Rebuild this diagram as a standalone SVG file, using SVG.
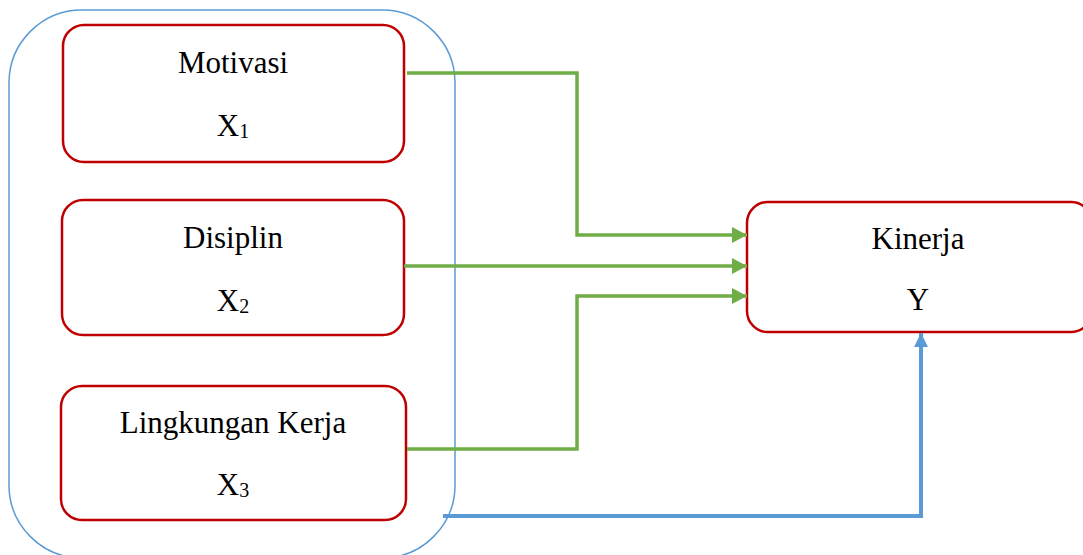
<svg xmlns="http://www.w3.org/2000/svg" width="1083" height="555" viewBox="0 0 1083 555">
<style>
.box{fill:#fff;stroke:#C00000;stroke-width:2.5}
.t{font-family:"Liberation Serif","Times New Roman",serif;font-size:31px;fill:#000;text-anchor:middle}
.sub{font-size:20px}
.g{fill:none;stroke:#70AD47;stroke-width:3.5}
.b{fill:none;stroke:#5B9BD5;stroke-width:4}
</style>
<defs>
<marker id="ag" markerUnits="userSpaceOnUse" markerWidth="16" markerHeight="16" refX="15" refY="8" orient="auto"><path d="M0,0 L15,8 L0,16 Z" fill="#70AD47"/></marker>
<marker id="ab" markerUnits="userSpaceOnUse" markerWidth="14" markerHeight="14" refX="14" refY="7" orient="auto"><path d="M0,0 L14,7 L0,14 Z" fill="#5B9BD5"/></marker>
</defs>
<rect id="group" x="9" y="10" width="446" height="548" rx="73" ry="73" fill="none" stroke="#5B9BD5" stroke-width="1.5"/>
<g id="motivasi">
<rect class="box" x="63" y="25" width="341" height="137" rx="21"/>
<text class="t" x="233" y="73">Motivasi</text>
<text class="t" x="233" y="136">X<tspan class="sub" dy="2">1</tspan></text>
</g>
<g id="disiplin">
<rect class="box" x="62" y="200" width="342" height="135" rx="21"/>
<text class="t" x="233" y="248">Disiplin</text>
<text class="t" x="233" y="311">X<tspan class="sub" dy="2">2</tspan></text>
</g>
<g id="lingkungan">
<rect class="box" x="61" y="386" width="345" height="134" rx="21"/>
<text class="t" x="233" y="433">Lingkungan Kerja</text>
<text class="t" x="233" y="495">X<tspan class="sub" dy="2">3</tspan></text>
</g>
<g id="kinerja">
<rect class="box" x="747" y="202" width="345" height="130" rx="21"/>
<text class="t" x="918" y="249">Kinerja</text>
<text class="t" x="918" y="310">Y</text>
</g>
<g id="connectors">
<path class="g" d="M407,73 H577 V235 H747" marker-end="url(#ag)"/>
<path class="g" d="M404,266 H747" marker-end="url(#ag)"/>
<path class="g" d="M407,449 H577 V296 H747" marker-end="url(#ag)"/>
<path class="b" d="M443,516 H921 V333" marker-end="url(#ab)"/>
</g>
</svg>
